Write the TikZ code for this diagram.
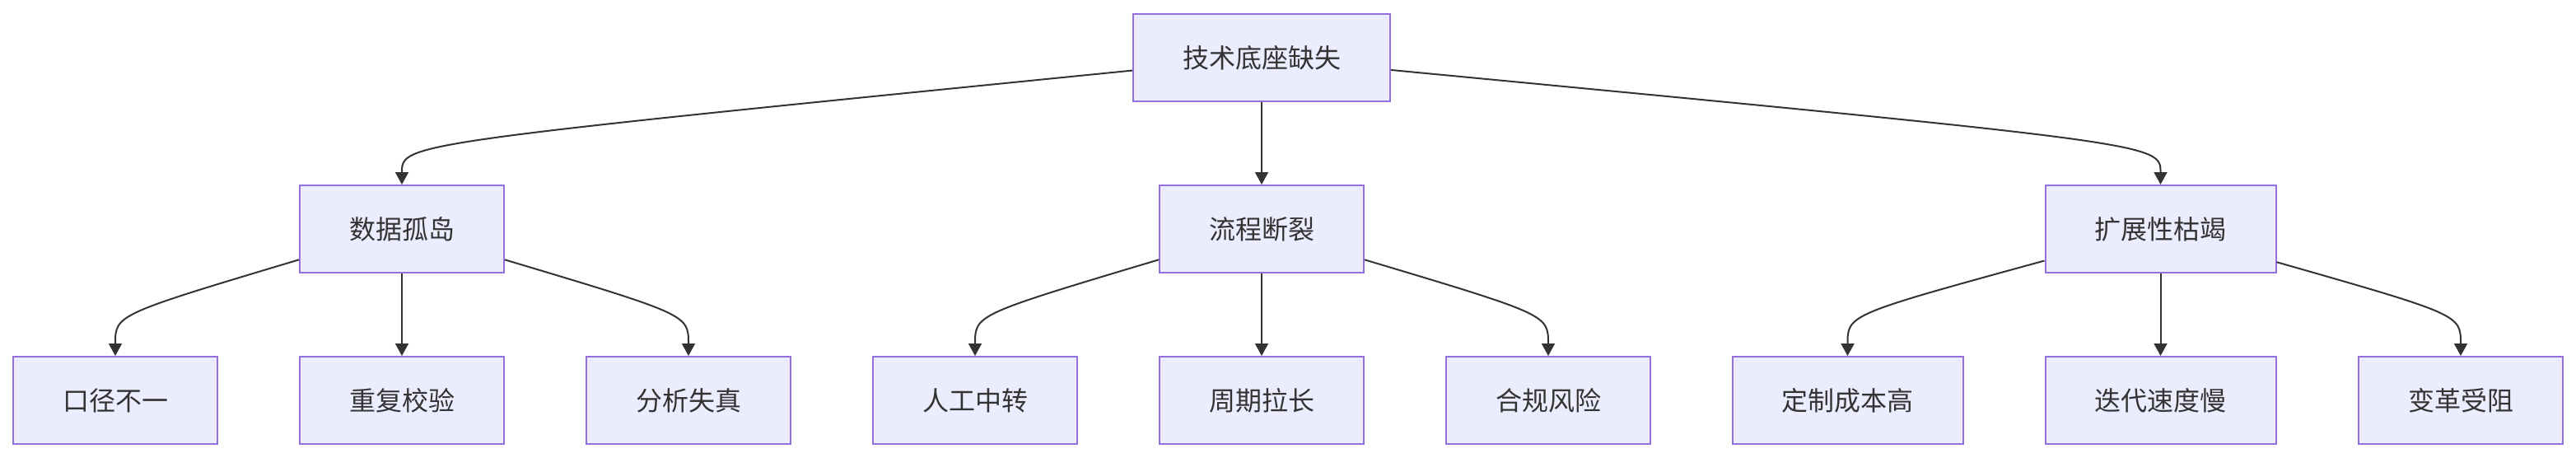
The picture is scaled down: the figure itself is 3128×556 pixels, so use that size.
\documentclass[tikz,border=0pt]{standalone}
\usepackage{fontspec}
\usepackage{xcolor}
\usepackage{tikz}
\usetikzlibrary{arrows.meta}
\newfontfamily\cjk{Noto Sans CJK SC}
\definecolor{boxfill}{HTML}{ECECFF}
\definecolor{boxline}{HTML}{9370DB}
\definecolor{ink}{HTML}{333333}

\begin{document}
\begin{tikzpicture}[x=0.5pt, y=-0.5pt,
    box/.style={draw=boxline, fill=boxfill, line width=1pt, inner xsep=30pt, inner ysep=0pt, minimum height=53pt, text=ink, font=\cjk\fontsize{16pt}{19pt}\selectfont},
    arr/.style={draw=ink, line width=1pt, -{Triangle[length=7.5pt, width=8pt]}}]
    \useasboundingbox (0,0) rectangle (3128,556);
    % top
    \node [box] (R) at (1532,70) {技术底座缺失};
    % second row
    \node [box] (D) at (488,278) {数据孤岛};
    \node [box] (L) at (1532,278) {流程断裂};
    \node [box] (K) at (2623.5,278) {扩展性枯竭};
    % leaves
    \node [box] (D1) at (140,486) {口径不一};
    \node [box] (D2) at (488,486) {重复校验};
    \node [box] (D3) at (836,486) {分析失真};
    \node [box] (L1) at (1184,486) {人工中转};
    \node [box] (L2) at (1532,486) {周期拉长};
    \node [box] (L3) at (1880,486) {合规风险};
    \node [box] (K1) at (2243.5,486) {定制成本高};
    \node [box] (K2) at (2623.5,486) {迭代速度慢};
    \node [box] (K3) at (2988,486) {变革受阻};
    % straight connectors
    \foreach \p/\c in {R/L, D/D2, L/L2, K/K2}
        \draw [arr] (\p) -- (\c);
    % bent connectors
    \foreach \p/\c in {R/D, R/K, D/D1, D/D3, L/L1, L/L3, K/K1, K/K3}
        \draw [arr] (\p) .. controls ([yshift=25pt]\c.north) .. (\c.north);
\end{tikzpicture}
\end{document}
